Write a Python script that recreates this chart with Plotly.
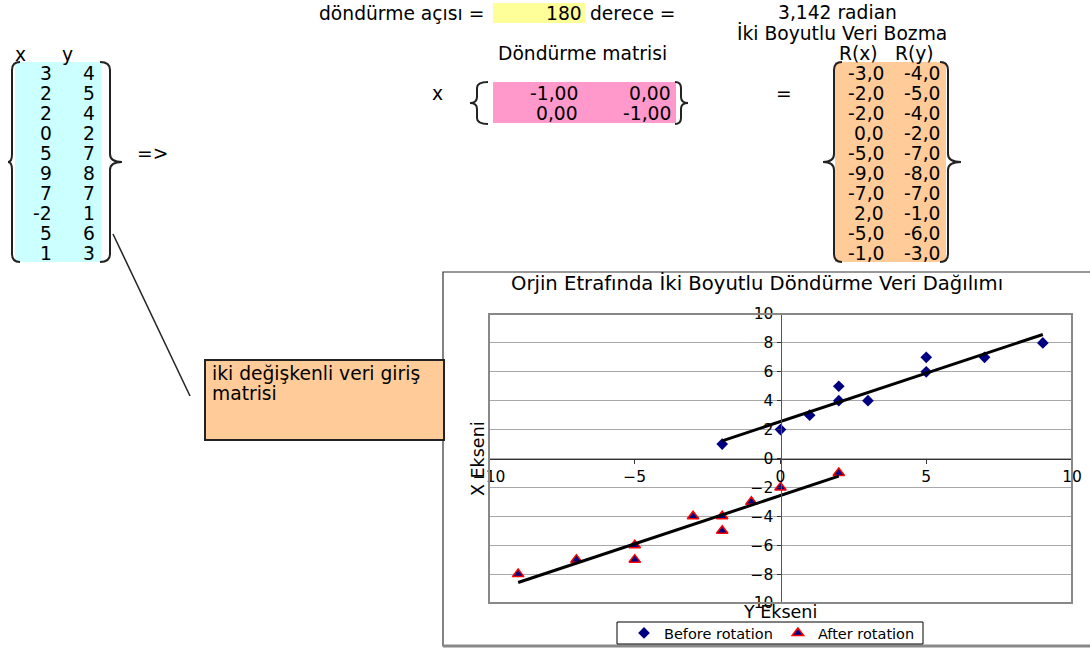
import numpy as np
import plotly.graph_objects as go

W, H = 1090, 648
FONT = "DejaVu Sans"
SHEET = 18.7

# ---------------- data ----------------
x_vals = [3, 2, 2, 0, 5, 9, 7, -2, 5, 1]
y_vals = [4, 5, 4, 2, 7, 8, 7, 1, 6, 3]
rx_vals = [-3.0, -2.0, -2.0, 0.0, -5.0, -9.0, -7.0, 2.0, -5.0, -1.0]
ry_vals = [-4.0, -5.0, -4.0, -2.0, -7.0, -8.0, -7.0, -1.0, -6.0, -3.0]
rot_matrix = [[-1.00, 0.00], [0.00, -1.00]]
angle_deg = 180
angle_rad = "3,142"
series_names = ["Before rotation", "After rotation"]
x_ticks = [-10, -5, 0, 5, 10]
y_ticks = [-10, -8, -6, -4, -2, 0, 2, 4, 6, 8, 10]
chart_title = "Orjin Etrafında İki Boyutlu Döndürme Veri Dağılımı"
x_title = "X Ekseni"
y_title = "Y Ekseni"


def PX(x):
    return x / W


def PY(y):
    return 1 - y / H


def fmt(v, d):
    return f"{v:.{d}f}".replace(".", ",")


annotations = []
shapes = []


def txt(s, x, y, anchor="left", size=SHEET, **kw):
    annotations.append(dict(text=s, x=PX(x), y=PY(y), xref="paper", yref="paper",
                            xanchor=anchor, yanchor="middle", showarrow=False,
                            font=dict(family=FONT, size=size, color="black"), **kw))


def rect(x0, y0, x1, y1, fill, line_color=None, lw=0, layer="below"):
    shapes.append(dict(type="rect", xref="paper", yref="paper",
                       x0=PX(x0), x1=PX(x1), y0=PY(y1), y1=PY(y0),
                       fillcolor=fill, line=dict(color=line_color or fill, width=lw),
                       layer=layer))


def line(x0, y0, x1, y1, color="black", lw=1.5, layer="above"):
    shapes.append(dict(type="line", xref="paper", yref="paper",
                       x0=PX(x0), x1=PX(x1), y0=PY(y0), y1=PY(y1),
                       line=dict(color=color, width=lw), layer=layer))


def brace(x_end, x_mid, x_tip, y0, y1, r=8):
    ym = (y0 + y1) / 2
    pts = lambda x, y: f"{PX(x):.5f},{PY(y):.5f}"
    p = (f"M {pts(x_end, y0)} Q {pts(x_mid, y0)} {pts(x_mid, y0 + r)} "
         f"L {pts(x_mid, ym - r)} Q {pts(x_mid, ym)} {pts(x_tip, ym)} "
         f"Q {pts(x_mid, ym)} {pts(x_mid, ym + r)} "
         f"L {pts(x_mid, y1 - r)} Q {pts(x_mid, y1)} {pts(x_end, y1)}")
    shapes.append(dict(type="path", xref="paper", yref="paper", path=p,
                       line=dict(color="#222222", width=2), layer="above"))


# ---------------- spreadsheet part ----------------
ROW0, ROWH = 73.5, 20

# input matrix
rect(15, 62, 101, 262, "#CCFFFF")
txt("x", 20, 54, "center")
txt("y", 67, 54, "center")
for i, (a, b) in enumerate(zip(x_vals, y_vals)):
    yy = ROW0 + i * ROWH
    txt(str(a), 54, yy, "right")
    txt(str(b), 97, yy, "right")
brace(20, 12, 8, 62, 262)
brace(100, 110, 122, 62, 262)
txt("=>", 135, 153, "left")

# angle row
txt("döndürme açısı =", 317, 14, "left")
rect(493, 3, 585, 23, "#FFFF99")
txt(str(angle_deg), 584, 14, "right")
txt("derece =", 588, 14, "left")
txt(f"{angle_rad} radian", 837, 13, "center")
txt("İki Boyutlu Veri Bozma", 842, 33, "center")

# rotation matrix
txt("Döndürme matrisi", 583, 53, "center")
txt("x", 437, 94, "center")
rect(493, 82, 676, 123, "#FF99CC")
for i, row in enumerate(rot_matrix):
    yy = 93.5 + i * ROWH
    txt(fmt(row[0], 2), 580, yy, "right")
    txt(fmt(row[1], 2), 673, yy, "right")
brace(488, 477, 470, 82, 124, r=6)
brace(675, 681, 688, 82, 124, r=6)
txt("=", 784, 94, "center")

# result matrix
txt("R(x)", 858, 53, "center")
txt("R(y)", 914, 53, "center")
rect(835, 62, 946, 262, "#FFCC99")
for i, (a, b) in enumerate(zip(rx_vals, ry_vals)):
    yy = ROW0 + i * ROWH
    txt(fmt(a, 1), 886, yy, "right")
    txt(fmt(b, 1), 942, yy, "right")
brace(842, 834, 823, 62, 262)
brace(940, 948, 961, 62, 262)

# callout
line(113, 234, 190, 396, "#222222", 1.5)

# ---------------- chart frame ----------------
rect(443, 272, 1100, 646, "rgba(0,0,0,0)", "#333333", 1.2, layer="below")
line(443, 646, 1090, 646, "#888888", 3, layer="below")

rect(205, 360, 444, 440, "#FFCC99", "#222222", 2, layer="above")
txt("iki değişkenli veri giriş", 210, 373, "left")
txt("matrisi", 210, 393, "left")

# legend frame (the legend itself is Plotly's, drawn inside this box)
rect(617, 622, 923, 644, "white", "black", 1, layer="above")

# ---------------- chart ----------------
x_dom = [489 / W, 1072 / W]
y_dom = [1 - 603 / H, 1 - 314 / H]

fig = go.Figure()
fig.add_trace(go.Scatter(x=x_vals, y=y_vals, mode="markers", name=series_names[0],
                         marker=dict(symbol="diamond", size=9, color="#000080")))
fig.add_trace(go.Scatter(x=rx_vals, y=ry_vals, mode="markers", name=series_names[1],
                         marker=dict(symbol="triangle-up", size=10, color="#000080",
                                     line=dict(color="#FF0000", width=1.5))))
for xs, ys in [(x_vals, y_vals), (rx_vals, ry_vals)]:
    m, b = np.polyfit(xs, ys, 1)
    xx = [min(xs), max(xs)]
    fig.add_trace(go.Scatter(x=xx, y=[m * v + b for v in xx], mode="lines",
                             line=dict(color="black", width=3), showlegend=False,
                             hoverinfo="skip"))

shapes.append(dict(type="rect", xref="x domain", yref="y domain", x0=0, x1=1, y0=0, y1=1,
                   line=dict(color="#888888", width=2), layer="above"))

txt(chart_title, 757, 284, "center", size=19.6)
txt(x_title, 478, 459, "center", size=17.5, textangle=-90)
txt(y_title, 780, 612, "center", size=17.5)

fig.update_layout(
    width=W, height=H, margin=dict(l=0, r=0, t=0, b=0, pad=0, autoexpand=False),
    paper_bgcolor="white", plot_bgcolor="white",
    font=dict(family=FONT, size=15, color="black"),
    xaxis=dict(domain=x_dom, range=[-10, 10], tickvals=x_ticks, anchor="free",
               position=(y_dom[0] + y_dom[1]) / 2, showline=True, linecolor="#333333",
               linewidth=1, ticks="outside", ticklen=4, tickcolor="#333333",
               showgrid=False, zeroline=False, tickfont=dict(size=15.5), automargin=False),
    yaxis=dict(domain=y_dom, range=[-10, 10], tickvals=y_ticks, anchor="free",
               position=(x_dom[0] + x_dom[1]) / 2, showline=True, linecolor="#555555",
               linewidth=1, ticks="outside", ticklen=4, tickcolor="#333333",
               showgrid=True, gridcolor="#a8a8a8", gridwidth=1, zeroline=False,
               tickfont=dict(size=15.5), automargin=False),
    legend=dict(orientation="h", x=772 / W, xanchor="center", y=PY(633), yanchor="middle",
                borderwidth=0, bgcolor="rgba(0,0,0,0)",
                font=dict(family=FONT, size=14.5), itemwidth=30, tracegroupgap=0),
    showlegend=True,
    shapes=shapes,
    annotations=annotations,
)

fig.write_html("out.html", config={"displayModeBar": False},
               post_script="document.body.style.margin='0';document.body.style.overflow='hidden';")
